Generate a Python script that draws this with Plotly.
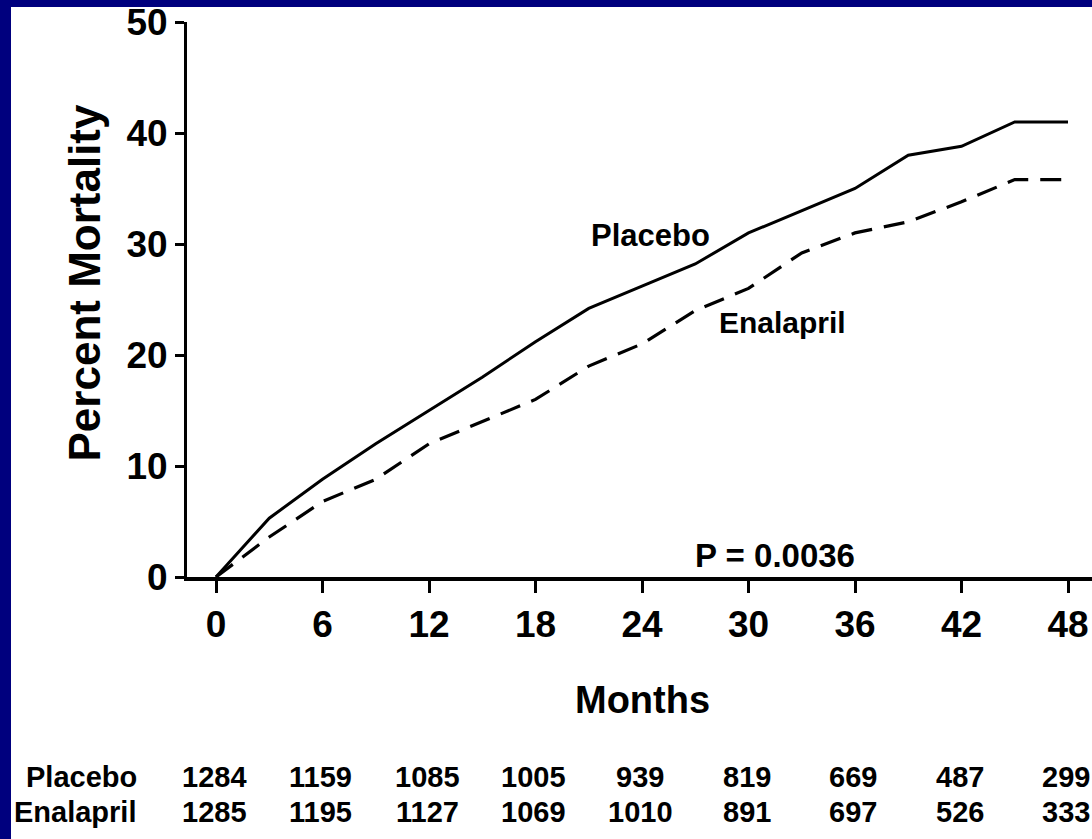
import plotly.graph_objects as go

# ---- data ----
months = [0, 3, 6, 9, 12, 15, 18, 21, 24, 27, 30, 33, 36, 39, 42, 45, 48]
placebo = [0, 5.3, 8.8, 12.0, 15.0, 18.0, 21.2, 24.2, 26.2, 28.2, 31.0, 33.0, 35.0, 38.0, 38.8, 41.0, 41.0]
enalapril = [0, 3.6, 6.8, 8.8, 12.0, 14.0, 16.0, 19.0, 21.0, 24.0, 26.0, 29.2, 31.0, 32.0, 33.8, 35.8, 35.8]

x_ticks = [0, 6, 12, 18, 24, 30, 36, 42, 48]
y_ticks = [0, 10, 20, 30, 40, 50]
risk_labels = ["Placebo", "Enalapril"]
risk_placebo = [1284, 1159, 1085, 1005, 939, 819, 669, 487, 299]
risk_enalapril = [1285, 1195, 1127, 1069, 1010, 891, 697, 526, 333]
p_text = "P = 0.0036"

# ---- geometry ----
W, H = 1092, 839
L, R, T, B = 187, 0, 22, 262
PW, PH = W - L - R, H - T - B
FONT = "Liberation Sans, Arial, Helvetica, sans-serif"
NAVY = "#00007e"


def px2paper_x(px):
    return (px - L) / PW


def py2paper_y(py):
    return (H - B - py) / PH


def bfont(size):
    return dict(size=size, color="black", family=FONT, weight="bold")


fig = go.Figure()
fig.add_trace(go.Scatter(x=months, y=placebo, mode="lines",
                         line=dict(color="black", width=3), showlegend=False))
fig.add_trace(go.Scatter(x=months, y=enalapril, mode="lines",
                         line=dict(color="black", width=3.2, dash="21px,12px"), showlegend=False))

annotations = [
    dict(x=24.5, y=30.8, xref="x", yref="y", text="Placebo", showarrow=False, font=bfont(31)),
    dict(x=31.9, y=22.9, xref="x", yref="y", text="Enalapril", showarrow=False, font=bfont(30)),
    dict(x=31.5, y=1.9, xref="x", yref="y", text=p_text, showarrow=False, font=bfont(33)),
    dict(x=24, y=py2paper_y(700), xref="x", yref="paper", text="Months", showarrow=False,
         font=bfont(38), yanchor="middle"),
    dict(x=px2paper_x(57), y=py2paper_y(283), xref="paper", yref="paper",
         text="Percent Mortality", textangle=-90, showarrow=False, font=bfont(44)),
]

row_y = [777, 812]
rows = [risk_placebo, risk_enalapril]
for lab, ry, vals in zip(risk_labels, row_y, rows):
    annotations.append(dict(x=px2paper_x(139), y=py2paper_y(ry), xref="paper", yref="paper",
                            text=lab, showarrow=False, xanchor="right", yanchor="middle",
                            font=bfont(29)))
    for xv, v in zip(x_ticks, vals):
        annotations.append(dict(x=xv, y=py2paper_y(ry), xref="x", yref="paper",
                                text=str(v), showarrow=False, xanchor="center", yanchor="middle",
                                xshift=-2, font=bfont(29)))

shapes = [
    # blue frame strips (left and top)
    dict(type="rect", xref="paper", yref="paper",
         x0=px2paper_x(0) - 0.01, x1=px2paper_x(11), y0=py2paper_y(H) - 0.01, y1=py2paper_y(0) + 0.01,
         fillcolor=NAVY, line=dict(width=0), layer="above"),
    dict(type="rect", xref="paper", yref="paper",
         x0=px2paper_x(0) - 0.01, x1=1.01, y0=py2paper_y(7), y1=py2paper_y(0) + 0.01,
         fillcolor=NAVY, line=dict(width=0), layer="above"),
]

fig.update_layout(
    width=W, height=H, autosize=False,
    margin=dict(l=L, r=R, t=T, b=B, pad=0),
    paper_bgcolor="white", plot_bgcolor="white",
    font=dict(family=FONT, color="black"),
    annotations=annotations, shapes=shapes,
    xaxis=dict(range=[(L - L - 29) / 17.75, (W - L - 29) / 17.75], tickvals=x_ticks,
               ticktext=[str(t) for t in x_ticks], showgrid=False, zeroline=False,
               showline=True, linecolor="black", linewidth=3.5,
               ticks="outside", ticklen=12, tickwidth=2.5, tickcolor="black",
               tickfont=bfont(37)),
    yaxis=dict(range=[0, 50], tickvals=y_ticks, showgrid=False, zeroline=False,
               showline=True, linecolor="black", linewidth=3,
               ticks="outside", ticklen=9, tickwidth=2.5, tickcolor="black",
               tickfont=bfont(37)),
)

fig.write_html("out.html", config={"displayModeBar": False},
               post_script="document.body.style.margin='0';document.body.style.overflow='hidden';")
